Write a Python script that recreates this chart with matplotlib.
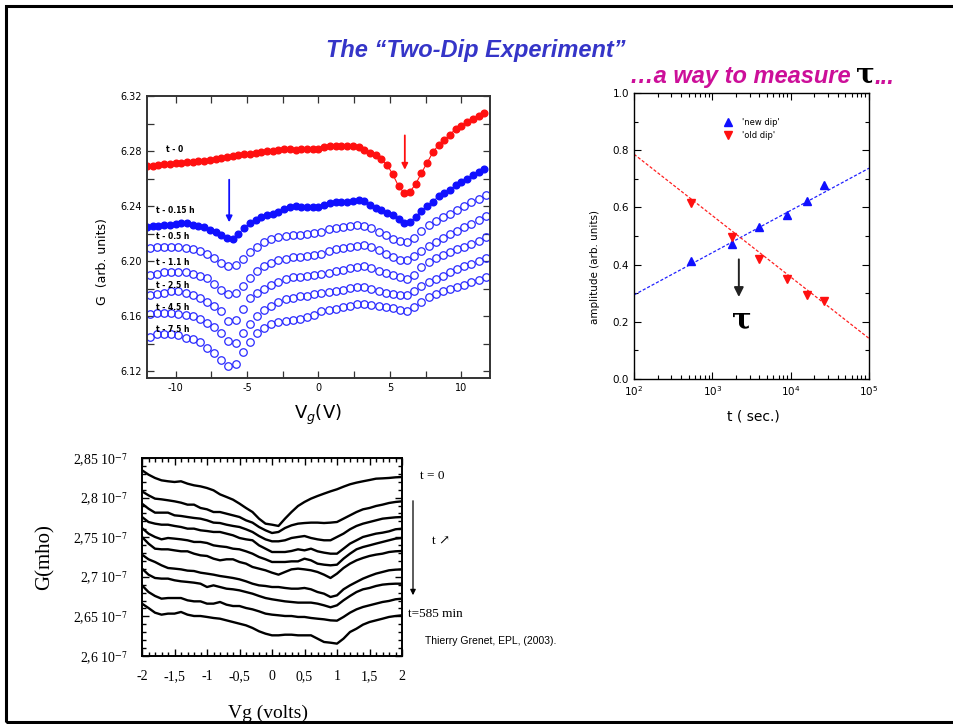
import numpy as np
import matplotlib
matplotlib.use('Agg')
import matplotlib.pyplot as plt
from matplotlib.patches import Rectangle, FancyArrowPatch
from matplotlib.ticker import MultipleLocator, LogLocator, NullFormatter

plt.rcParams['axes.unicode_minus'] = False

# ---------------- data: top-left panel, G (arb. units) vs Vg (V) ----------------
vg_fill = np.linspace(-12.0, 11.6, 60)
g_t0 = [6.2690, 6.2695, 6.2700, 6.2703, 6.2708, 6.2712, 6.2716, 6.2720, 6.2722, 6.2727,
        6.2731, 6.2738, 6.2745, 6.2752, 6.2758, 6.2762, 6.2768, 6.2775, 6.2781, 6.2786,
        6.2790, 6.2797, 6.2803, 6.2810, 6.2816, 6.2812, 6.2808, 6.2812, 6.2816, 6.2815,
        6.2818, 6.2826, 6.2834, 6.2838, 6.2840, 6.2836, 6.2838, 6.2832, 6.2810, 6.2785,
        6.2768, 6.2740, 6.2700, 6.2630, 6.2545, 6.2495, 6.2505, 6.2560, 6.2640, 6.2715,
        6.2790, 6.2845, 6.2880, 6.2920, 6.2960, 6.2985, 6.3010, 6.3035, 6.3055, 6.3080]
g_t015 = [6.2248, 6.2252, 6.2257, 6.2262, 6.2266, 6.2270, 6.2276, 6.2278, 6.2266, 6.2258,
          6.2245, 6.2228, 6.2210, 6.2190, 6.2168, 6.2162, 6.2200, 6.2240, 6.2275, 6.2300,
          6.2320, 6.2335, 6.2345, 6.2358, 6.2380, 6.2395, 6.2398, 6.2394, 6.2397, 6.2393,
          6.2390, 6.2405, 6.2420, 6.2428, 6.2432, 6.2430, 6.2436, 6.2442, 6.2435, 6.2410,
          6.2385, 6.2370, 6.2352, 6.2333, 6.2305, 6.2275, 6.2285, 6.2320, 6.2365, 6.2400,
          6.2432, 6.2470, 6.2495, 6.2515, 6.2555, 6.2578, 6.2598, 6.2625, 6.2648, 6.2668]

vg_open = np.linspace(-11.8, 11.7, 48)
g_t05 = [6.2095, 6.2100, 6.2103, 6.2103, 6.2102, 6.2098, 6.2090, 6.2075, 6.2050, 6.2022,
         6.1990, 6.1962, 6.1970, 6.2015, 6.2065, 6.2100, 6.2138, 6.2160, 6.2178, 6.2186,
         6.2189, 6.2192, 6.2197, 6.2205, 6.2215, 6.2230, 6.2240, 6.2246, 6.2255, 6.2260,
         6.2252, 6.2238, 6.2212, 6.2190, 6.2162, 6.2145, 6.2142, 6.2170, 6.2220, 6.2265,
         6.2295, 6.2322, 6.2342, 6.2375, 6.2398, 6.2428, 6.2455, 6.2482]
g_t11 = [6.1898, 6.1910, 6.1920, 6.1922, 6.1921, 6.1920, 6.1910, 6.1895, 6.1875, 6.1835,
         6.1790, 6.1760, 6.1770, 6.1820, 6.1880, 6.1930, 6.1968, 6.1990, 6.2006, 6.2018,
         6.2028, 6.2030, 6.2036, 6.2046, 6.2055, 6.2072, 6.2085, 6.2095, 6.2104, 6.2112,
         6.2114, 6.2104, 6.2080, 6.2055, 6.2030, 6.2012, 6.2008, 6.2035, 6.2075, 6.2110,
         6.2140, 6.2170, 6.2195, 6.2220, 6.2245, 6.2272, 6.2298, 6.2325]
g_t25 = [6.1757, 6.1762, 6.1770, 6.1780, 6.1780, 6.1768, 6.1752, 6.1735, 6.1705, 6.1672,
         6.1635, 6.1565, 6.1575, 6.1650, 6.1730, 6.1770, 6.1800, 6.1825, 6.1850, 6.1870,
         6.1885, 6.1886, 6.1892, 6.1900, 6.1905, 6.1915, 6.1925, 6.1935, 6.1948, 6.1960,
         6.1968, 6.1952, 6.1930, 6.1912, 6.1897, 6.1882, 6.1872, 6.1900, 6.1955, 6.1992,
         6.2020, 6.2048, 6.2068, 6.2088, 6.2105, 6.2125, 6.2148, 6.2172]
g_t45 = [6.1619, 6.1624, 6.1626, 6.1623, 6.1619, 6.1610, 6.1598, 6.1578, 6.1550, 6.1520,
         6.1475, 6.1420, 6.1405, 6.1475, 6.1545, 6.1600, 6.1643, 6.1672, 6.1705, 6.1722,
         6.1735, 6.1745, 6.1750, 6.1758, 6.1768, 6.1775, 6.1785, 6.1793, 6.1802, 6.1815,
         6.1810, 6.1800, 6.1785, 6.1772, 6.1764, 6.1755, 6.1752, 6.1785, 6.1822, 6.1850,
         6.1872, 6.1895, 6.1918, 6.1942, 6.1962, 6.1980, 6.2000, 6.2020]
g_t75 = [6.1449, 6.1470, 6.1474, 6.1470, 6.1461, 6.1445, 6.1432, 6.1410, 6.1370, 6.1330,
         6.1285, 6.1240, 6.1250, 6.1340, 6.1415, 6.1475, 6.1515, 6.1540, 6.1560, 6.1568,
         6.1576, 6.1580, 6.1592, 6.1612, 6.1640, 6.1648, 6.1655, 6.1665, 6.1676, 6.1688,
         6.1686, 6.1680, 6.1673, 6.1666, 6.1660, 6.1645, 6.1640, 6.1665, 6.1705, 6.1738,
         6.1762, 6.1780, 6.1795, 6.1810, 6.1825, 6.1848, 6.1865, 6.1885]
open_curves = [g_t05, g_t11, g_t25, g_t45, g_t75]

curve_labels = ['t - 0', 't - 0.15 h', 't - 0.5 h', 't - 1.1 h', 't - 2.5 h', 't - 4.5 h', 't - 7.5 h']
label_vg = [-10.7, -11.4, -11.4, -11.4, -11.4, -11.4, -11.4]
label_g = [6.2808, 6.2365, 6.2176, 6.1987, 6.1820, 6.1660, 6.1507]

# ---------------- data: top-right panel, dip amplitude vs time ----------------
t_sec = [540, 1800, 3960, 9000, 16200, 27000]
amp_new = [0.411, 0.471, 0.530, 0.573, 0.621, 0.678]
amp_old = [0.617, 0.498, 0.419, 0.351, 0.293, 0.273]
fit_t = [1e2, 1e5]
fit_new = [0.294, 0.737]
fit_old = [0.786, 0.142]
tau_t = 2180

# ---------------- data: bottom panel, G (1e-7 mho) vs Vg (volts) ----------------
vg_b = np.linspace(-2.0, 2.0, 41)
g_bottom = [
    [2.8345, 2.8290, 2.8248, 2.8218, 2.8206, 2.8197, 2.8206, 2.8176, 2.8155, 2.8142,
     2.8121, 2.8092, 2.8041, 2.8008, 2.7974, 2.7924, 2.7869, 2.7818, 2.7734, 2.7671,
     2.7658, 2.7642, 2.7734, 2.7818, 2.7894, 2.7945, 2.7987, 2.8020, 2.8050, 2.8079,
     2.8105, 2.8138, 2.8168, 2.8189, 2.8206, 2.8222, 2.8239, 2.8243, 2.8248, 2.8256, 2.8260],
    [2.8079, 2.8029, 2.7987, 2.7978, 2.7966, 2.7953, 2.7936, 2.7911, 2.7911, 2.7869,
     2.7852, 2.7818, 2.7818, 2.7797, 2.7776, 2.7755, 2.7713, 2.7684, 2.7629, 2.7587,
     2.7553, 2.7566, 2.7616, 2.7650, 2.7671, 2.7679, 2.7684, 2.7684, 2.7679, 2.7684,
     2.7692, 2.7734, 2.7776, 2.7818, 2.7852, 2.7869, 2.7894, 2.7911, 2.7932, 2.7945, 2.7953],
    [2.7924, 2.7860, 2.7810, 2.7810, 2.7810, 2.7776, 2.7768, 2.7755, 2.7743, 2.7734,
     2.7713, 2.7684, 2.7679, 2.7658, 2.7642, 2.7629, 2.7600, 2.7566, 2.7515, 2.7473,
     2.7448, 2.7448, 2.7461, 2.7490, 2.7503, 2.7515, 2.7490, 2.7473, 2.7461, 2.7461,
     2.7503, 2.7545, 2.7600, 2.7642, 2.7671, 2.7692, 2.7713, 2.7734, 2.7743, 2.7751, 2.7755],
    [2.7755, 2.7692, 2.7671, 2.7658, 2.7658, 2.7642, 2.7629, 2.7608, 2.7608, 2.7587,
     2.7578, 2.7566, 2.7566, 2.7545, 2.7524, 2.7490, 2.7473, 2.7461, 2.7397, 2.7355,
     2.7313, 2.7313, 2.7313, 2.7326, 2.7347, 2.7334, 2.7355, 2.7322, 2.7305, 2.7292,
     2.7292, 2.7355, 2.7419, 2.7461, 2.7503, 2.7524, 2.7545, 2.7557, 2.7574, 2.7600, 2.7608],
    [2.7616, 2.7545, 2.7503, 2.7473, 2.7490, 2.7482, 2.7473, 2.7461, 2.7440, 2.7440,
     2.7427, 2.7397, 2.7385, 2.7376, 2.7355, 2.7347, 2.7322, 2.7292, 2.7250, 2.7221,
     2.7187, 2.7187, 2.7187, 2.7195, 2.7195, 2.7229, 2.7208, 2.7166, 2.7153, 2.7145,
     2.7153, 2.7229, 2.7292, 2.7347, 2.7376, 2.7397, 2.7419, 2.7440, 2.7461, 2.7482, 2.7490],
    [2.7503, 2.7419, 2.7355, 2.7347, 2.7347, 2.7334, 2.7322, 2.7322, 2.7292, 2.7271,
     2.7263, 2.7229, 2.7208, 2.7221, 2.7221, 2.7187, 2.7166, 2.7124, 2.7103, 2.7082,
     2.7052, 2.7027, 2.7061, 2.7094, 2.7103, 2.7094, 2.7082, 2.7061, 2.7027, 2.6985,
     2.7040, 2.7111, 2.7166, 2.7208, 2.7238, 2.7263, 2.7280, 2.7292, 2.7313, 2.7322, 2.7326],
    [2.7280, 2.7221, 2.7187, 2.7145, 2.7111, 2.7103, 2.7094, 2.7078, 2.7073, 2.7052,
     2.7040, 2.7027, 2.7010, 2.6998, 2.6985, 2.6968, 2.6943, 2.6913, 2.6892, 2.6884,
     2.6871, 2.6871, 2.6859, 2.6850, 2.6850, 2.6859, 2.6842, 2.6808, 2.6787, 2.6745,
     2.6766, 2.6842, 2.6892, 2.6935, 2.6977, 2.7010, 2.7040, 2.7061, 2.7082, 2.7090, 2.7094],
    [2.7103, 2.7027, 2.6985, 2.6977, 2.6977, 2.6956, 2.6943, 2.6935, 2.6926, 2.6913,
     2.6871, 2.6892, 2.6871, 2.6850, 2.6842, 2.6829, 2.6808, 2.6787, 2.6758, 2.6732,
     2.6716, 2.6703, 2.6690, 2.6682, 2.6674, 2.6674, 2.6674, 2.6661, 2.6640, 2.6615,
     2.6640, 2.6703, 2.6758, 2.6808, 2.6842, 2.6859, 2.6884, 2.6901, 2.6909, 2.6913, 2.6913],
    [2.6892, 2.6808, 2.6758, 2.6724, 2.6732, 2.6732, 2.6732, 2.6703, 2.6690, 2.6690,
     2.6661, 2.6661, 2.6682, 2.6648, 2.6631, 2.6631, 2.6606, 2.6589, 2.6564, 2.6535,
     2.6522, 2.6514, 2.6505, 2.6505, 2.6493, 2.6493, 2.6480, 2.6471, 2.6463, 2.6450,
     2.6446, 2.6493, 2.6547, 2.6589, 2.6619, 2.6640, 2.6661, 2.6682, 2.6695, 2.6716, 2.6724],
    [2.6661, 2.6606, 2.6547, 2.6522, 2.6535, 2.6535, 2.6556, 2.6522, 2.6505, 2.6505,
     2.6493, 2.6480, 2.6471, 2.6450, 2.6429, 2.6408, 2.6387, 2.6354, 2.6312, 2.6282,
     2.6261, 2.6261, 2.6269, 2.6269, 2.6261, 2.6261, 2.6261, 2.6219, 2.6177, 2.6168,
     2.6156, 2.6219, 2.6303, 2.6345, 2.6396, 2.6429, 2.6450, 2.6471, 2.6493, 2.6505, 2.6514],
]
b_yticks = [2.6, 2.65, 2.7, 2.75, 2.8, 2.85]
b_ylabels = ['2,6 10$^{-7}$', '2,65 10$^{-7}$', '2,7 10$^{-7}$',
             '2,75 10$^{-7}$', '2,8 10$^{-7}$', '2,85 10$^{-7}$']
b_xticks = [-2, -1.5, -1, -0.5, 0, 0.5, 1, 1.5, 2]
b_xlabels = ['-2', '-1,5', '-1', '-0,5', '0', '0,5', '1', '1,5', '2']

# ---------------- figure helpers (pixel layout) ----------------
W, H = 954, 724
fig = plt.figure(figsize=(W / 100, H / 100), dpi=100)
fig.patch.set_facecolor('white')


def add_ax(l, t, r, b):
    return fig.add_axes([l / W, 1 - b / H, (r - l) / W, (b - t) / H])


def ftext(x, y, s, **kw):
    return fig.text(x / W, 1 - y / H, s, **kw)


# slide frame
fig.add_artist(Rectangle((6 / W, 2 / H), 1.0, 716 / H, transform=fig.transFigure,
                         fill=False, lw=2.2, ec='black'))

# titles
ftext(476, 50, 'The \u201cTwo-Dip Experiment\u201d', ha='center', va='center',
      fontsize=17, fontweight='bold', style='italic', color='#3535c8',
      family='Liberation Sans')
ftext(851, 77, '\u2026a way to measure', ha='right', va='center', fontsize=17,
      fontweight='bold', style='italic', color='#cc0f99', family='Liberation Sans')
ftext(865, 75, '\u03c4', ha='center', va='center', fontsize=20, fontweight='bold',
      color='black', family='DejaVu Serif')
ftext(874, 77, '...', ha='left', va='center', fontsize=17, fontweight='bold',
      style='italic', color='#cc0f99', family='Liberation Sans')

# ---------------- panel 1 ----------------
ax1 = add_ax(147, 96, 490, 378)
ax1.plot(vg_fill, g_t0, 'o-', color='#ff1010', ms=4.8, lw=0.8)
ax1.plot(vg_fill, g_t015, 'o-', color='#1010ff', ms=4.8, lw=0.8)
for g in open_curves:
    ax1.plot(vg_open, g, 'o', mfc='none', mec='#2a2aff', ms=5.4, mew=0.9)
for s, xv, yv in zip(curve_labels, label_vg, label_g):
    ax1.text(xv, yv, s, fontsize=5.5, fontweight='bold', va='center', ha='left')
ax1.annotate('', xy=(-6.25, 6.2262), xytext=(-6.25, 6.2612),
             arrowprops=dict(arrowstyle='-|>', color='#1010ff', lw=1.3, mutation_scale=9))
ax1.annotate('', xy=(6.04, 6.2644), xytext=(6.04, 6.2934),
             arrowprops=dict(arrowstyle='-|>', color='#ff1010', lw=1.3, mutation_scale=9))
ax1.set_xlim(-12, 12)
ax1.set_ylim(6.1151, 6.32)
ax1.xaxis.set_major_locator(MultipleLocator(5))
ax1.xaxis.set_minor_locator(MultipleLocator(2.5))
ax1.yaxis.set_major_locator(MultipleLocator(0.04))
ax1.yaxis.set_minor_locator(MultipleLocator(0.02))
ax1.yaxis.set_major_formatter(plt.FuncFormatter(lambda v, p: '%.2f' % v))
ax1.tick_params(which='both', direction='in', top=True, right=True, length=5,
                width=0.9, labelsize=7, color='#333333')
ax1.tick_params(axis='y', pad=4)
for sp in ax1.spines.values():
    sp.set_linewidth(1.4)
    sp.set_color('#333333')
ftext(103, 262, 'G  (arb. units)', rotation=90, ha='center', va='center', fontsize=9)
ftext(318, 415, 'V$_g$(V)', ha='center', va='center', fontsize=13)

# ---------------- panel 2 ----------------
ax2 = add_ax(634, 93, 869, 379)
ax2.set_xscale('log')
ax2.plot(fit_t, fit_new, color='#2020ff', lw=0.9, ls=(0, (2.5, 1.5)))
ax2.plot(fit_t, fit_old, color='#ff2020', lw=0.9, ls=(0, (2.5, 1.5)))
h_new, = ax2.plot(t_sec, amp_new, '^', color='#1010ff', ms=6, ls='none')
h_old, = ax2.plot(t_sec, amp_old, 'v', color='#ff1010', ms=6, ls='none')
ax2.legend([h_new, h_old], ["'new dip'", "'old dip'"], loc='upper left',
           bbox_to_anchor=(0.35, 0.94), frameon=False, fontsize=6,
           handlelength=1.0, handletextpad=1.2, labelspacing=0.5)
ax2.annotate('', xy=(tau_t, 0.277), xytext=(tau_t, 0.428),
             arrowprops=dict(arrowstyle='-|>', color='#222222', lw=1.4, mutation_scale=14))
ax2.text(2390, 0.205, '\u03c4', fontsize=21, fontweight='bold', ha='center',
         va='center', family='DejaVu Serif')
ax2.set_xlim(1e2, 1e5)
ax2.set_ylim(0, 1)
ax2.yaxis.set_major_locator(MultipleLocator(0.2))
ax2.yaxis.set_minor_locator(MultipleLocator(0.1))
ax2.yaxis.set_major_formatter(plt.FuncFormatter(lambda v, p: '%.1f' % v))
ax2.xaxis.set_minor_locator(LogLocator(base=10, subs=np.arange(2, 10), numticks=20))
ax2.xaxis.set_minor_formatter(NullFormatter())
ax2.tick_params(which='both', direction='in', top=True, right=True, labelsize=7.5,
                width=0.8)
ax2.tick_params(which='major', length=5)
ax2.tick_params(which='minor', length=3)
for sp in ax2.spines.values():
    sp.set_linewidth(1.0)
ftext(595, 267, 'amplitude (arb. units)', rotation=90, ha='center', va='center',
      fontsize=7.5)
ftext(753, 417, 't ( sec.)', ha='center', va='center', fontsize=10)

# ---------------- panel 3 ----------------
ax3 = add_ax(142, 458, 402, 656)
for g in g_bottom:
    ax3.plot(vg_b, g, color='black', lw=1.7)
ax3.set_xlim(-2, 2)
ax3.set_ylim(2.6, 2.85)
ax3.set_yticks(b_yticks)
ax3.set_yticklabels(b_ylabels, family='Liberation Serif', fontsize=10)
ax3.set_xticks(b_xticks)
ax3.set_xticklabels(b_xlabels, family='Liberation Serif', fontsize=10)
for lbl in ax3.get_yticklabels():
    lbl.set_math_fontfamily('stix')
ax3.xaxis.set_minor_locator(MultipleLocator(0.1))
ax3.yaxis.set_minor_locator(MultipleLocator(0.01))
ax3.tick_params(which='both', direction='in', top=True, right=True, width=1.0)
ax3.tick_params(which='major', length=5)
ax3.tick_params(which='minor', length=3)
ax3.tick_params(axis='x', pad=10)
ax3.tick_params(axis='y', pad=10)
for sp in ax3.spines.values():
    sp.set_linewidth(1.4)
ftext(45, 557, 'G(mho)', rotation=90, ha='center', va='center', fontsize=15,
      family='Liberation Serif')
ftext(268, 713, 'Vg (volts)', ha='center', va='center', fontsize=14,
      family='Liberation Serif')
ftext(420, 476, 't = 0', ha='left', va='center', fontsize=9.5, family='Liberation Serif')
ftext(408, 614, 't=585 min', ha='left', va='center', fontsize=9.5,
      family='Liberation Serif')
ftext(432, 541, 't \u2197', ha='left', va='center', fontsize=9.5,
      family=['Liberation Serif', 'DejaVu Serif'])
fig.add_artist(FancyArrowPatch(
    (413 / W, 1 - 498 / H), (413 / W, 1 - 598 / H), transform=fig.transFigure,
    arrowstyle='-|>', mutation_scale=8, lw=0.9, color='black'))
ftext(425, 641, 'Thierry Grenet, EPL, (2003).', ha='left', va='center', fontsize=7.5,
      family='Liberation Sans')

fig.savefig('out.png', dpi=100)
